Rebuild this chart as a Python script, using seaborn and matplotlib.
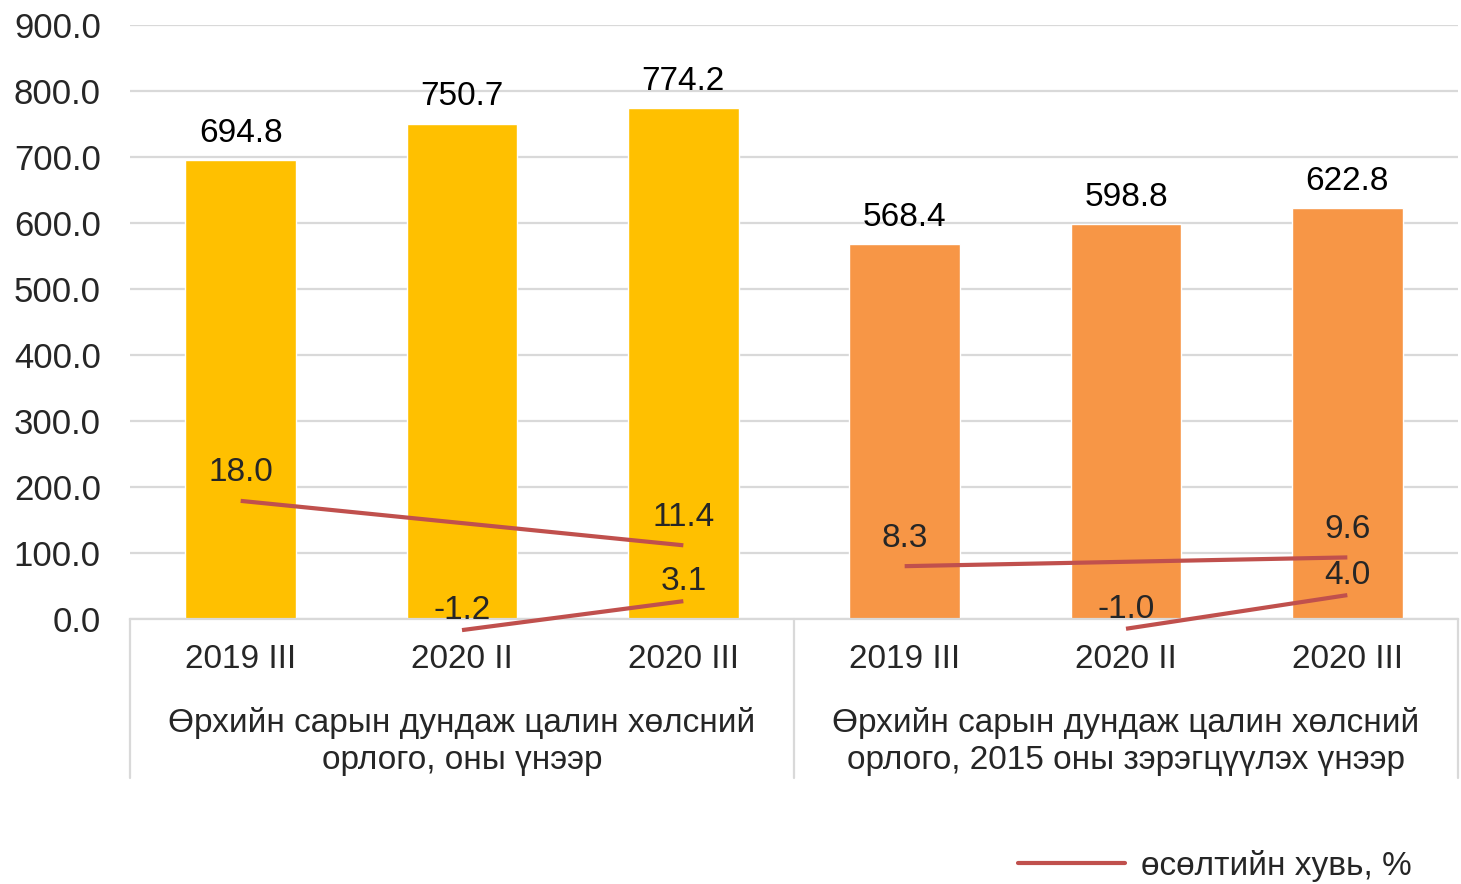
import matplotlib
matplotlib.use("Agg")
import matplotlib.pyplot as plt
import seaborn as sns
import pandas as pd
from matplotlib.lines import Line2D

# data
periods = ["2019 III", "2020 II", "2020 III"]
groups = [
    "Өрхийн сарын дундаж цалин хөлсний\nорлого, оны үнээр",
    "Өрхийн сарын дундаж цалин хөлсний\nорлого, 2015 оны зэрэгцүүлэх үнээр",
]
wage_nominal = [694.8, 750.7, 774.2]
wage_real = [568.4, 598.8, 622.8]

# growth %, year-on-year (2019 III -> 2020 III) and quarter-on-quarter (2020 II -> 2020 III)
yoy_periods = ["2019 III", "2020 III"]
yoy_nominal = [18.0, 11.4]
yoy_real = [8.3, 9.6]
qoq_periods = ["2020 II", "2020 III"]
qoq_nominal = [-1.2, 3.1]
qoq_real = [-1.0, 4.0]

legend_label = "өсөлтийн хувь, %"
bar_colors = ["#FFC000", "#F79646"]
line_color = "#C0504D"
grid_color = "#D9D9D9"

sns.set_theme(style="white")
plt.rcParams["font.family"] = ["Liberation Sans", "DejaVu Sans"]
FS = 24

rows = []
for g, vals in zip(groups, [wage_nominal, wage_real]):
    for p, v in zip(periods, vals):
        rows.append({"group": g, "period": p, "key": g + "|" + p, "value": v})
df = pd.DataFrame(rows)
keys = list(df["key"])

fig = plt.figure(figsize=(14.61, 8.84), dpi=100)
ax = fig.add_axes([130 / 1461, 1 - 619 / 884, (1458 - 130) / 1461, (619 - 25) / 884])

sns.barplot(data=df, x="key", y="value", hue="group", order=keys,
            palette=dict(zip(groups, bar_colors)), dodge=False, width=0.5,
            saturation=1, legend=False, ax=ax, zorder=2)

for cont in ax.containers:
    ax.bar_label(cont, fmt="%.1f", padding=8, fontsize=FS, color="black")

ax.set_ylim(0, 900)
ax.set_xlim(-0.5, len(keys) - 0.5)
ax.set_yticks(range(0, 901, 100))
ax.set_yticklabels([f"{v:.1f}" for v in range(0, 901, 100)], fontsize=25)
ax.yaxis.grid(True, color=grid_color, linewidth=1.6, zorder=0)
ax.set_axisbelow(True)
ax.tick_params(axis="y", length=0, pad=21)
ax.set_xticks(range(len(keys)))
ax.set_xticklabels(list(df["period"]), fontsize=FS)
ax.tick_params(axis="x", length=0, pad=18)
ax.set_xlabel("")
ax.set_ylabel("")
for s in ["left", "right", "top"]:
    ax.spines[s].set_visible(False)
ax.spines["bottom"].set_color(grid_color)
ax.spines["bottom"].set_linewidth(1.6)

# multi-level category axis: separators and group labels
n = len(periods)
for b in range(len(groups) + 1):
    ax.axvline(b * n - 0.5, ymin=-0.268, ymax=0, color=grid_color,
               linewidth=1.6, clip_on=False)
for i, g in enumerate(groups):
    ax.text(i * n + (n - 1) / 2, -0.206, g, transform=ax.get_xaxis_transform(),
            ha="center", va="center", fontsize=FS, linespacing=1.27)

# growth lines on hidden secondary axis
ax2 = ax.twinx()
ax2.set_ylim(0.45, 88.7)
ax2.axis("off")
pos = {p: i for i, p in enumerate(periods)}
for i, (yoy, qoq) in enumerate([(yoy_nominal, qoq_nominal), (yoy_real, qoq_real)]):
    for seg_periods, seg_vals, off in [(yoy_periods, yoy, 9), (qoq_periods, qoq, 3)]:
        xs = [i * n + pos[p] for p in seg_periods]
        ax2.plot(xs, seg_vals, color=line_color, linewidth=3, clip_on=False,
                 solid_capstyle="butt")
        for x, v in zip(xs, seg_vals):
            ax2.annotate(f"{v:.1f}", (x, v), xytext=(0, off), textcoords="offset points",
                         ha="center", va="bottom", fontsize=FS, annotation_clip=False)

handle = Line2D([], [], color=line_color, linewidth=3)
fig.legend([handle], [legend_label], loc="center right", bbox_to_anchor=(1442 / 1461, 1 - 866 / 884),
           frameon=False, fontsize=FS, handlelength=3.2, handletextpad=0.5)

fig.savefig("out.png", dpi=100)
